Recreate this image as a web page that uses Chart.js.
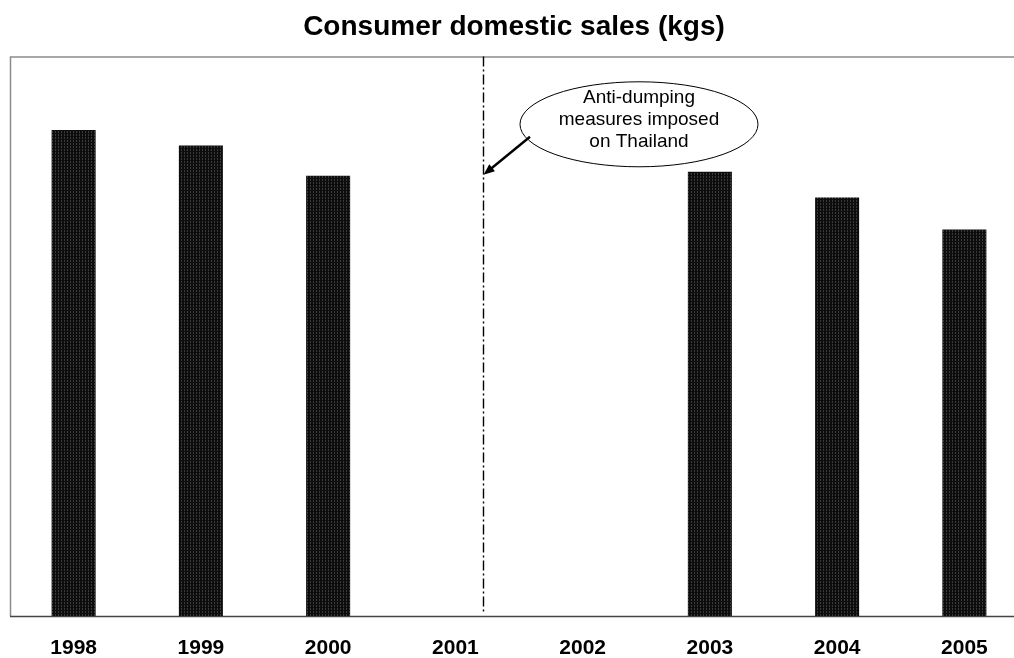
<!DOCTYPE html>
<html>
<head>
<meta charset="utf-8">
<script src="https://cdn.jsdelivr.net/npm/chart.js@4.4.1/dist/chart.umd.min.js"></script>
<style>
  html, body { margin: 0; padding: 0; background: #fff; overflow: hidden; }
  #wrap { width: 1028px; height: 658px; }
</style>
</head>
<body>
<div id="wrap"><canvas id="salesChart" width="1028" height="658"></canvas></div>
<script>
// Consumer domestic sales, indexed (no y scale shown in the report)
var years = ["1998", "1999", "2000", "2001", "2002", "2003", "2004", "2005"];
var sales = [86.9, 84.1, 78.7, null, null, 79.4, 74.8, 69.1];
var noteLines = ["Anti-dumping", "measures imposed", "on Thailand"];
var measureAt = 3.22;   // where the dash-dot marker sits on the year axis

var FONT = "'Liberation Sans', Arial, sans-serif";

// dark fill with faint vertical hatching
function barPattern() {
    var c = document.createElement("canvas");
    c.width = 3; c.height = 3;
    var g = c.getContext("2d");
    g.fillStyle = "#0d0d0d";
    g.fillRect(0, 0, 3, 3);
    g.fillStyle = "#3a3a3a";
    g.fillRect(1, 0, 1, 1);
    g.fillRect(1, 2, 1, 1);
    return g.createPattern(c, "repeat");
}

var frame = {
    id: "frame",
    beforeDatasetsDraw: function (chart) {
        var a = chart.chartArea, ctx = chart.ctx;
        ctx.save();
        ctx.strokeStyle = "#8c8c8c";
        ctx.lineWidth = 1.5;
        ctx.beginPath();
        ctx.moveTo(a.left + 0.5, a.bottom);
        ctx.lineTo(a.left + 0.5, a.top + 0.5);
        ctx.lineTo(a.right, a.top + 0.5);
        ctx.stroke();
        ctx.strokeStyle = "#444";
        ctx.beginPath();
        ctx.moveTo(a.left, a.bottom + 0.5);
        ctx.lineTo(a.right, a.bottom + 0.5);
        ctx.stroke();
        ctx.restore();
    },
    afterDatasetsDraw: function (chart) {
        var a = chart.chartArea, ctx = chart.ctx;
        var xs = chart.scales.x, ys = chart.scales.y;
        var mx = Math.round(xs.getPixelForValue(measureAt)) + 0.5;

        ctx.save();
        // dash-dot marker line
        ctx.strokeStyle = "#000";
        ctx.lineWidth = 1.4;
        ctx.setLineDash([10, 3, 2, 3]);
        ctx.beginPath();
        ctx.moveTo(mx, a.top);
        ctx.lineTo(mx, a.bottom - 4);
        ctx.stroke();
        ctx.setLineDash([]);

        // callout ellipse
        var cx = xs.getPixelForValue(4.443), cy = ys.getPixelForValue(87.9);
        ctx.fillStyle = "#fff";
        ctx.strokeStyle = "#000";
        ctx.lineWidth = 1;
        ctx.beginPath();
        ctx.ellipse(cx, cy, 119, 42.5, 0, 0, Math.PI * 2);
        ctx.fill();
        ctx.stroke();

        ctx.fillStyle = "#000";
        ctx.font = "19px " + FONT;
        ctx.textAlign = "center";
        ctx.textBaseline = "middle";
        noteLines.forEach(function (t, i) {
            ctx.fillText(t, cx, cy - 4.5 + (i - 1) * 22);
        });

        // arrow to the marker line
        var sx = cx - 109, sy = cy + 12.5;
        var ex = mx, ey = cy + 50.5;
        var ang = Math.atan2(ey - sy, ex - sx);
        ctx.lineWidth = 2.4;
        ctx.beginPath();
        ctx.moveTo(sx, sy);
        ctx.lineTo(ex - 8 * Math.cos(ang), ey - 8 * Math.sin(ang));
        ctx.stroke();
        ctx.beginPath();
        ctx.moveTo(ex, ey);
        ctx.lineTo(ex - 12 * Math.cos(ang - 0.38), ey - 12 * Math.sin(ang - 0.38));
        ctx.lineTo(ex - 12 * Math.cos(ang + 0.38), ey - 12 * Math.sin(ang + 0.38));
        ctx.closePath();
        ctx.fill();
        ctx.restore();
    }
};

new Chart("salesChart", {
    type: "bar",
    data: {
        labels: years,
        datasets: [{
            data: sales,
            backgroundColor: barPattern(),
            borderWidth: 0,
            barPercentage: 0.346,
            categoryPercentage: 1
        }]
    },
    options: {
        responsive: false,
        animation: false,
        layout: { padding: 0 },
        plugins: {
            legend: { display: false },
            tooltip: { enabled: false },
            title: {
                display: true,
                text: "Consumer domestic sales (kgs)",
                color: "#000",
                font: { family: FONT, size: 28, weight: "bold" },
                padding: { top: 10, bottom: 13 }
            }
        },
        scales: {
            x: {
                grid: { display: false, drawTicks: false },
                border: { display: false },
                afterFit: function (scale) { scale.height = 42; },
                ticks: {
                    color: "#000",
                    padding: 20,
                    maxRotation: 0,
                    font: { family: FONT, size: 21, weight: "bold" }
                }
            },
            y: {
                min: 0,
                max: 100,
                grid: { display: false, drawTicks: false },
                border: { display: false },
                ticks: { display: false },
                afterFit: function (scale) { scale.width = 10; }
            }
        }
    },
    plugins: [frame]
});
</script>
</body>
</html>
